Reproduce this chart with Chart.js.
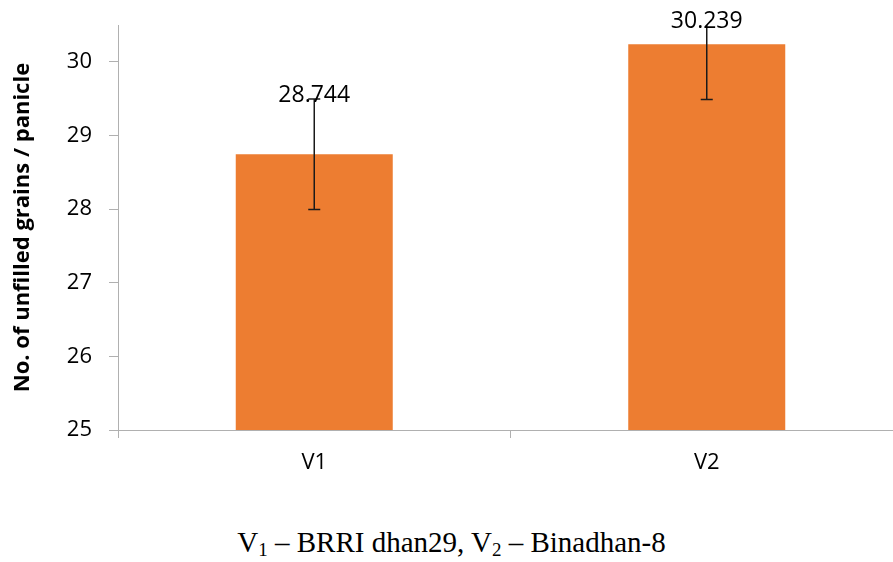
<!DOCTYPE html>
<html>
<head>
<meta charset="utf-8">
<script src="https://cdn.jsdelivr.net/npm/chart.js@4"></script>
<style>
  html, body { margin: 0; padding: 0; background: #fff; overflow: hidden; }
  #wrap { position: relative; width: 893px; height: 562px; overflow: hidden; }
  #c { position: absolute; left: 0; top: 0; }
  #caption { position: absolute; left: 0; width: 903px; top: 526px; text-align: center;
    font-family: 'Liberation Serif', 'Times New Roman', serif; font-size: 29px; color: #000; white-space: nowrap; }
  #caption sub { font-size: 19px; vertical-align: -4px; line-height: 0; }
</style>
</head>
<body>
<div id="wrap">
  <canvas id="c" width="903" height="490"></canvas>
  <div id="caption">V<sub>1</sub> – BRRI dhan29, V<sub>2</sub> – Binadhan-8</div>
</div>
<script>
const categories = ['V1', 'V2'];
const values = [28.744, 30.239];
const errors = [0.75, 0.75];
const valueLabels = ['28.744', '30.239'];
const yTicks = [25, 26, 27, 28, 29, 30];
const yTitle = 'No. of unfilled grains / panicle';

const axisColor = '#b0b0b0';
const fontFam = "'Open Sans', 'Liberation Sans', sans-serif";

const errorBarPlugin = {
  id: 'errorBars',
  afterDatasetsDraw(chart) {
    const ctx = chart.ctx;
    const meta = chart.getDatasetMeta(0);
    const y = chart.scales.y;
    const area = chart.chartArea;
    ctx.save();
    ctx.beginPath();
    ctx.rect(area.left, area.top, area.right - area.left, area.bottom - area.top);
    ctx.clip();
    ctx.strokeStyle = '#1a1a1a';
    ctx.lineWidth = 1.5;
    meta.data.forEach((bar, i) => {
      const x = bar.x;
      const yTop = y.getPixelForValue(values[i] + errors[i]);
      const yBot = y.getPixelForValue(values[i] - errors[i]);
      ctx.beginPath();
      ctx.moveTo(x, yTop); ctx.lineTo(x, yBot);
      ctx.moveTo(x - 6, yTop); ctx.lineTo(x + 6, yTop);
      ctx.moveTo(x - 6, yBot); ctx.lineTo(x + 6, yBot);
      ctx.stroke();
    });
    ctx.restore();
    ctx.save();
    ctx.fillStyle = '#000';
    ctx.font = '23px ' + fontFam;
    ctx.textAlign = 'center';
    ctx.textBaseline = 'alphabetic';
    meta.data.forEach((bar, i) => {
      const yTop = Math.max(y.getPixelForValue(values[i] + errors[i]), area.top);
      ctx.fillText(valueLabels[i], bar.x, yTop + 3);
    });
    ctx.restore();
  }
};

new Chart(document.getElementById('c'), {
  type: 'bar',
  data: {
    labels: categories,
    datasets: [{
      data: values,
      backgroundColor: '#ED7D31',
      borderWidth: 0,
      barPercentage: 0.4,
      categoryPercentage: 1.0
    }]
  },
  options: {
    responsive: false,
    animation: false,
    devicePixelRatio: 1,
    layout: { padding: { top: 25, right: 0, left: 0, bottom: 0 } },
    plugins: { legend: { display: false }, tooltip: { enabled: false } },
    scales: {
      x: {
        offset: true,
        grid: { offset: true, drawOnChartArea: false, drawTicks: true, tickLength: 8, color: axisColor, lineWidth: 1 },
        border: { color: axisColor, width: 1 },
        ticks: { color: '#000', font: { family: fontFam, size: 22 }, padding: 12 },
        afterFit(scale) { scale.height = 60; scale.paddingLeft = 0; scale.paddingRight = 0; }
      },
      y: {
        min: 25,
        max: 30.5,
        afterBuildTicks(scale) { scale.ticks = yTicks.map(v => ({ value: v })); },
        grid: { drawOnChartArea: false, drawTicks: true, tickLength: 9, color: axisColor, lineWidth: 1 },
        border: { color: axisColor, width: 1 },
        ticks: { color: '#000', font: { family: fontFam, size: 22 }, padding: 17 },
        title: { display: true, text: yTitle, color: '#000',
          font: { family: fontFam, size: 22, weight: 'bold' }, padding: { top: 10, bottom: 0 } },
        afterFit(scale) { scale.width = 118; scale.paddingTop = 0; scale.paddingBottom = 0; }
      }
    }
  },
  plugins: [errorBarPlugin]
});
</script>
</body>
</html>
